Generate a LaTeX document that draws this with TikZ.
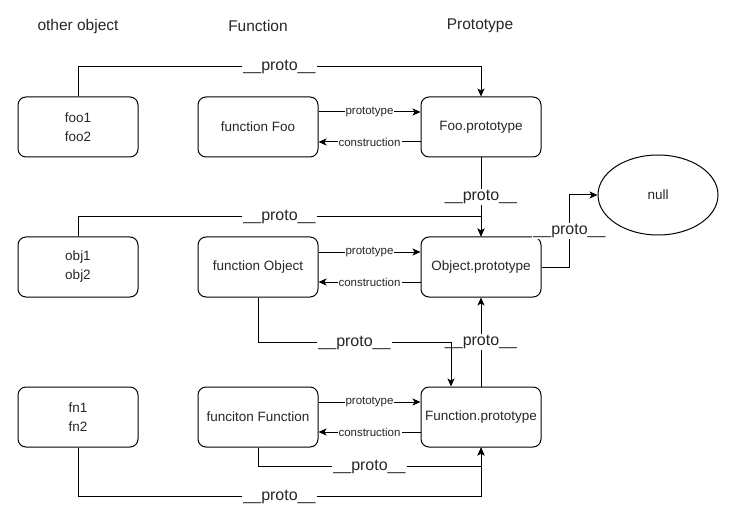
\documentclass[tikz,border=0pt]{standalone}
\usepackage{fontspec}
\setmainfont{Liberation Sans}
\usetikzlibrary{arrows.meta,calc,shapes.geometric}
\begin{document}
\begin{tikzpicture}[x=1pt,y=-1pt,
  line width=1pt,
  box/.style={draw, rounded corners=8pt, minimum width=120pt, minimum height=60pt, inner sep=0pt, align=center, font=\fontsize{13.5}{19}\selectfont, text=black!85},
  header/.style={font=\fontsize{15.5}{18}\selectfont, text=black!85},
  arr/.style={-{Stealth[length=8pt,width=7pt,inset=2pt]}},
  lbl/.style={fill=white, inner sep=1pt, font=\fontsize{16}{18}\selectfont, text=black!85},
  slbl/.style={fill=white, inner sep=1pt, font=\fontsize{11.5}{13}\selectfont, text=black!85}]
\useasboundingbox (0,0) rectangle (746,521);

% headers
\node[header] (h1) at (78,26) {other object};
\node[header] (h2) at (258,26) {Function};
\node[header] (h3) at (480,26) {Prototype};

% boxes
\node[box] (foo) at (78,127) {foo1\\foo2};
\node[box] (ffoo) at (258,127) {function Foo};
\node[box] (pfoo) at (481,127) {Foo.prototype};
\node[box] (obj) at (78,267) {obj1\\obj2};
\node[box] (fobj) at (258,267) {function Object};
\node[box] (pobj) at (481,267) {Object.prototype};
\node[box] (fn) at (78,417) {fn1\\fn2};
\node[box] (ffn) at (258,417) {funciton Function};
\node[box] (pfn) at (481,417) {Function.prototype};
\node[draw, ellipse, minimum width=120pt, minimum height=80pt, inner sep=0pt, font=\fontsize{13.5}{16}\selectfont, text=black!85] (null) at (658,195) {null};

% prototype / construction
\foreach \f/\p in {ffoo/pfoo, fobj/pobj, ffn/pfn}{
  \draw[arr] ([yshift=15pt]\f.east) -- ([yshift=15pt]\p.west) node[midway, slbl] {prototype};
  \draw[arr] ([yshift=-15pt]\p.west) -- ([yshift=-15pt]\f.east) node[midway, slbl] {construction};
}

% __proto__ links
\draw[arr] (foo.north) -- ++(0,-30) coordinate (a1) -- (a1 -| pfoo.north) node[midway, lbl] {\_\_proto\_\_} -- (pfoo.north);
\draw[arr] (pfoo.south) -- (pobj.north) node[midway, lbl] {\_\_proto\_\_};
\draw[arr] (obj.north) -- ++(0,-20) coordinate (a2) -- (a2 -| pobj.north) node[midway, lbl] {\_\_proto\_\_} -- (pobj.north);
\draw[arr] (pobj.east) -- ++(28,0) coordinate (a3) -- (a3 |- null.west) node[midway, lbl] {\_\_proto\_\_} -- (null.west);
\draw[arr] (pfn.north) -- (pobj.south) node[midway, lbl] {\_\_proto\_\_};
\coordinate (pfnin) at ($(pfn.north)+(-30,0)$);
\draw[arr] (fobj.south) -- ++(0,45) coordinate (a4) -- (a4 -| pfnin) node[midway, lbl] {\_\_proto\_\_} -- (pfnin);
\draw[arr] (ffn.south) -- ++(0,19) coordinate (a5) -- (a5 -| pfn.south) node[midway, lbl] {\_\_proto\_\_} -- (pfn.south);
\draw[arr] (fn.south) -- ++(0,49) coordinate (a6) -- (a6 -| pfn.south) node[midway, lbl] {\_\_proto\_\_} -- (pfn.south);
\end{tikzpicture}
\end{document}
